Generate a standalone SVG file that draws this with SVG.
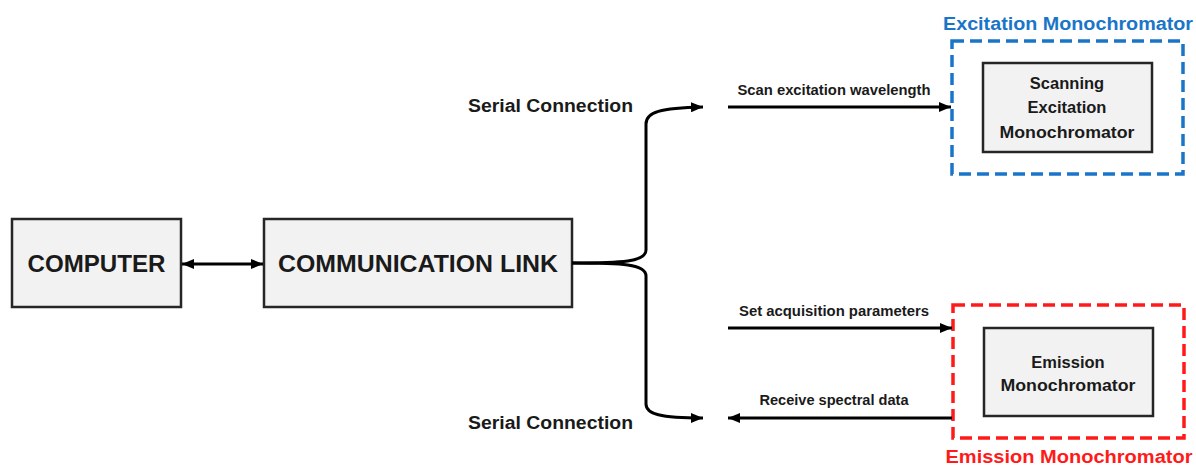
<svg xmlns="http://www.w3.org/2000/svg" width="1196" height="465" viewBox="0 0 1196 465">
  <style>
    .box { fill: #f2f2f2; stroke: #262626; stroke-width: 2.5; }
    .big { font-family: "Liberation Sans", Arial, sans-serif; font-weight: bold; font-size: 24px; fill: #1a1a1a; text-anchor: middle; }
    .mid { font-family: "Liberation Sans", Arial, sans-serif; font-weight: bold; font-size: 18px; fill: #1a1a1a; }
    .inner { font-family: "Liberation Sans", Arial, sans-serif; font-weight: bold; font-size: 16.5px; fill: #1a1a1a; text-anchor: middle; }
    .small { font-family: "Liberation Sans", Arial, sans-serif; font-weight: bold; font-size: 14px; fill: #1a1a1a; text-anchor: middle; }
    .group-label { font-family: "Liberation Sans", Arial, sans-serif; font-weight: bold; font-size: 18px; text-anchor: middle; }
    .wire { fill: none; stroke: #000; stroke-width: 3; }
    .dash { fill: none; stroke-width: 3.5; stroke-dasharray: 12 6; }
  </style>
  <defs>
    <marker id="arrow" viewBox="0 0 12 10" refX="12" refY="5" markerWidth="12" markerHeight="10" markerUnits="userSpaceOnUse" orient="auto-start-reverse">
      <path d="M0,0 L12,5 L0,10 Z" fill="#000"/>
    </marker>
  </defs>

  <rect width="1196" height="465" fill="#fff"/>

  <g id="computer">
    <rect class="box" x="12" y="219" width="169" height="88"/>
    <text class="big" x="96.5" y="272" textLength="138" lengthAdjust="spacingAndGlyphs">COMPUTER</text>
  </g>

  <g id="communication-link">
    <rect class="box" x="264" y="219" width="308" height="88"/>
    <text class="big" x="418" y="272" textLength="280" lengthAdjust="spacingAndGlyphs">COMMUNICATION LINK</text>
  </g>

  <g id="excitation-monochromator">
    <rect class="dash" stroke="#1a75c9" x="952" y="41" width="231" height="133"/>
    <text class="group-label" fill="#1a75c9" x="1068" y="30" textLength="250" lengthAdjust="spacingAndGlyphs">Excitation Monochromator</text>
    <rect class="box" x="983" y="63" width="169" height="89"/>
    <text class="inner" x="1067" y="89">Scanning</text>
    <text class="inner" x="1067" y="113">Excitation</text>
    <text class="inner" x="1067" y="138" textLength="135" lengthAdjust="spacingAndGlyphs">Monochromator</text>
  </g>

  <g id="emission-monochromator">
    <rect class="dash" stroke="#ff1a1a" x="953" y="305" width="231" height="133"/>
    <text class="group-label" fill="#ff1a1a" x="1069" y="463" textLength="247" lengthAdjust="spacingAndGlyphs">Emission Monochromator</text>
    <rect class="box" x="984" y="328" width="169" height="88"/>
    <text class="inner" x="1068" y="368">Emission</text>
    <text class="inner" x="1068" y="391" textLength="135" lengthAdjust="spacingAndGlyphs">Monochromator</text>
  </g>

  <g id="serial-labels">
    <text class="mid" x="633" y="112" text-anchor="end" textLength="165" lengthAdjust="spacingAndGlyphs">Serial Connection</text>
    <text class="mid" x="633" y="429" text-anchor="end" textLength="165" lengthAdjust="spacingAndGlyphs">Serial Connection</text>
  </g>

  <g id="connectors">
    <!-- computer <-> communication link -->
    <line class="wire" x1="182" y1="264" x2="263" y2="264" marker-start="url(#arrow)" marker-end="url(#arrow)"/>
    <!-- brace splitting into the two serial connections -->
    <path class="wire" d="M572,263 C622,263 646,262 646,250 L646,124 C646,112 660,108 703,107" marker-end="url(#arrow)"/>
    <path class="wire" d="M572,263 C622,263 646,264 646,276 L646,404 C646,414 660,418 703,418" marker-end="url(#arrow)"/>
    <!-- command / data lines -->
    <line class="wire" x1="728" y1="107" x2="951" y2="107" marker-end="url(#arrow)"/>
    <text class="small" x="834" y="95" textLength="193" lengthAdjust="spacingAndGlyphs">Scan excitation wavelength</text>
    <line class="wire" x1="728" y1="328" x2="952" y2="328" marker-end="url(#arrow)"/>
    <text class="small" x="834" y="316" textLength="190" lengthAdjust="spacingAndGlyphs">Set acquisition parameters</text>
    <line class="wire" x1="952" y1="418" x2="728" y2="418" marker-end="url(#arrow)"/>
    <text class="small" x="834" y="405" textLength="149" lengthAdjust="spacingAndGlyphs">Receive spectral data</text>
  </g>
</svg>
